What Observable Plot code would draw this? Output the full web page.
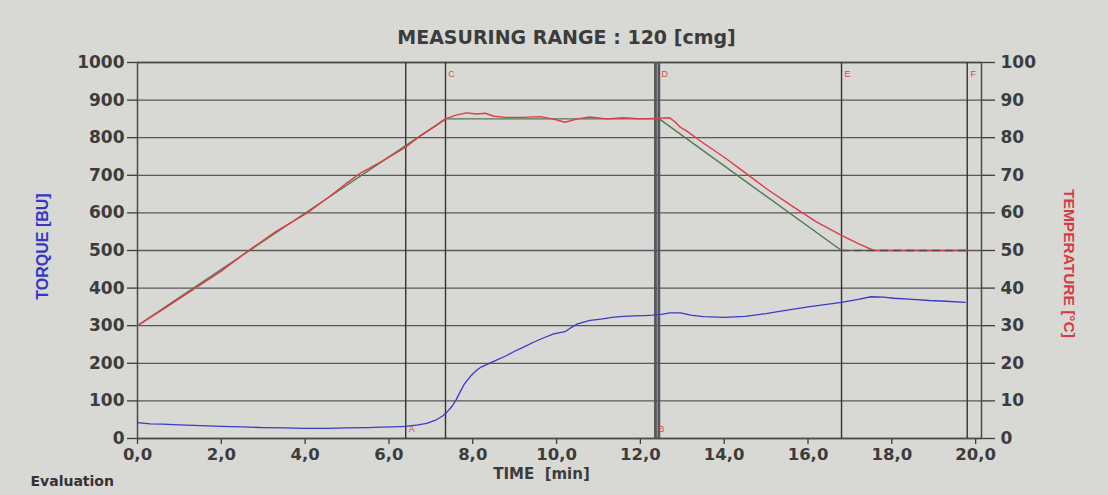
<!DOCTYPE html>
<html><head><meta charset="utf-8">
<script src="https://cdn.jsdelivr.net/npm/d3@7"></script>
<script src="https://cdn.jsdelivr.net/npm/@observablehq/plot@0.6"></script>
<style>
html,body{margin:0;padding:0;background:#d6d6d3;overflow:hidden;}
</style></head><body><div id="chart"></div>
<script>
// Torque [BU] over time [min]
const torqueTime  = [0,0.3,0.6,1.0,1.5,2.0,2.5,3.0,3.5,4.0,4.5,5.0,5.5,5.8,6.1,6.4,6.7,6.9,7.1,7.28,7.4,7.5,7.6,7.7,7.8,7.95,8.1,8.2,8.5,8.8,9.0,9.25,9.45,9.7,9.93,10.2,10.35,10.5,10.8,11.1,11.37,11.6,11.85,12.1,12.3,12.5,12.7,12.96,13.2,13.5,14.0,14.5,15.0,15.35,15.7,16.0,16.4,16.8,17.2,17.5,17.8,18.05,18.5,18.9,19.3,19.75];
const torqueValue = [42,39,38,36,34,32,31,29,28,27,27,28,29,30,31,32,36,40,48,60,72,85,102,124,145,166,182,190,205,220,232,245,256,268,278,284,295,305,314,318,323,325,326,327,328,330,334,334,328,324,322,325,332,339,345,350,356,362,370,377,376,373,370,367,365,362];
// Measured temperature [°C]
const tempTime  = [0,0.7,1.38,2.0,2.65,3.3,4.05,4.6,5.0,5.32,5.8,6.1,6.4,6.75,7.1,7.35,7.6,7.85,8.1,8.3,8.5,8.8,9.2,9.6,9.9,10.2,10.5,10.8,11.2,11.6,12.0,12.45,12.7,12.85,12.95,13.1,13.5,14.0,14.4,15.0,15.65,16.2,16.8,17.2,17.57,18.5,19.8];
const tempValue = [30,35,40,44.5,50,55,60,64.5,68,70.6,73.5,75.5,77.5,80.5,83,85,86,86.6,86.3,86.5,85.7,85.4,85.4,85.6,85,84.1,85,85.5,85,85.3,85,85.2,85.3,84,82.8,81.8,78.6,74.8,71.5,66.5,61.6,57.6,54,51.8,50,50,50];
// Programmed temperature profile [°C]
const progTime  = [0,7.35,12.45,16.8,19.8];
const progValue = [30,85,85,50,50];
// Evaluation markers
const markerNames = ["A","C","B","D","E","F"];
const markerTimes = [6.4,7.35,12.36,12.44,16.8,19.8];
const bottomMarkers = ["A","B"];
// Ticks
const xTicks = [0,2,4,6,8,10,12,14,16,18,20];
const torqueTicks = [0,100,200,300,400,500,600,700,800,900,1000];
const tempTicks = [0,10,20,30,40,50,60,70,80,90,100];

const idx = a => d3.range(a.length);
const wide = "DejaVu Sans, Verdana, sans-serif";
const narrow = "Liberation Sans, Arial, sans-serif";
const markers = markerNames.map((n,i)=>({n, t: markerTimes[i], bottom: bottomMarkers.includes(n)}));
const thick = d => d.n === "B" || d.n === "D";

const chart = Plot.plot({
  width: 1108, height: 495,
  marginLeft: 137, marginRight: 127, marginTop: 62, marginBottom: 57,
  style: {background: "#d8d8d5", fontFamily: narrow, fontWeight: "bold", overflow: "visible"},
  x: {domain: [0, 20.14], axis: null, label: null},
  y: {domain: [0, 1000], axis: null, label: null},
  marks: [
    Plot.ruleY(torqueTicks, {stroke: "#58585a", strokeWidth: 1.3}),
    Plot.axisY(torqueTicks, {anchor: "left", label: null, tickSize: 10, tickPadding: 3, fontSize: 17, fontFamily: wide, fontWeight: "bold", color: "#3c3c3c", strokeWidth: 1.3, tickFormat: d => String(d)}),
    Plot.axisY(tempTicks.map(t => t*10), {anchor: "right", label: null, tickSize: 13, tickPadding: 6, fontSize: 17, fontFamily: wide, fontWeight: "bold", color: "#3c3c3c", strokeWidth: 1.3, tickFormat: d => String(d/10)}),
    Plot.axisX(xTicks, {anchor: "bottom", label: null, tickSize: 6, tickPadding: 4, fontSize: 16.5, fontFamily: wide, fontWeight: "bold", color: "#3c3c3c", strokeWidth: 1.3, tickFormat: d => d.toFixed(1).replace(".", ",")}),
    Plot.frame({stroke: "#4a4a4c", strokeWidth: 1.5}),
    Plot.ruleX(markers, {x: "t", stroke: d => thick(d) ? "#55555c" : "#333338", strokeWidth: d => thick(d) ? 2.8 : 1.4}),
    Plot.text(markers.filter(d => !d.bottom), {x: "t", frameAnchor: "top", text: "n", dx: 6, dy: 8, fill: "#e04848", fontSize: 9, fontWeight: "normal"}),
    Plot.text(markers.filter(d => d.bottom), {x: "t", frameAnchor: "bottom", text: "n", dx: 6, dy: -7, fill: "#e04848", fontSize: 9, fontWeight: "normal"}),
    // programmed profile (ramp part)
    Plot.line(idx(progTime).slice(0, 4), {x: i => progTime[i], y: i => progValue[i]*10, stroke: "#4d7a52", strokeWidth: 1.4}),
    // measured temperature
    Plot.line(idx(tempTime), {x: i => tempTime[i], y: i => tempValue[i]*10, stroke: "#e03c44", strokeWidth: 1.4}),
    // programmed hold, overlapping the measured temperature
    Plot.line(idx(progTime).slice(3), {x: i => progTime[i], y: i => progValue[i]*10, stroke: "#5a4a4a", strokeWidth: 1.4, strokeDasharray: "7,6"}),
    // torque
    Plot.line(idx(torqueTime), {x: i => torqueTime[i], y: i => torqueValue[i], stroke: "#3a3ac8", strokeWidth: 1.3}),
    // titles
    Plot.text(["MEASURING RANGE : 120 [cmg]"], {frameAnchor: "top", dx: 7, dy: -32, fontSize: 19, fontFamily: wide, fontWeight: "bold", fill: "#3c3c3c"}),
    Plot.text(["TIME  [min]"], {frameAnchor: "bottom", dx: -18, dy: 40, fontSize: 15, fontFamily: wide, fontWeight: "bold", fill: "#3c3c3c"}),
    Plot.text(["TORQUE [BU]"], {frameAnchor: "left", textAnchor: "middle", dx: -95, dy: -4, rotate: -90, fontSize: 16, fontWeight: "bold", fill: "#3535c8"}),
    Plot.text(["TEMPERATURE [°C]"], {frameAnchor: "right", textAnchor: "middle", dx: 87, dy: 13, rotate: 90, fontSize: 15.5, fontWeight: "bold", fill: "#d83a40"}),
    Plot.text(["Evaluation"], {frameAnchor: "bottom-left", textAnchor: "start", dx: -107, dy: 47, fontSize: 14, fontFamily: wide, fontWeight: "bold", fill: "#333"})
  ]
});
document.getElementById("chart").appendChild(chart);
</script></body></html>
